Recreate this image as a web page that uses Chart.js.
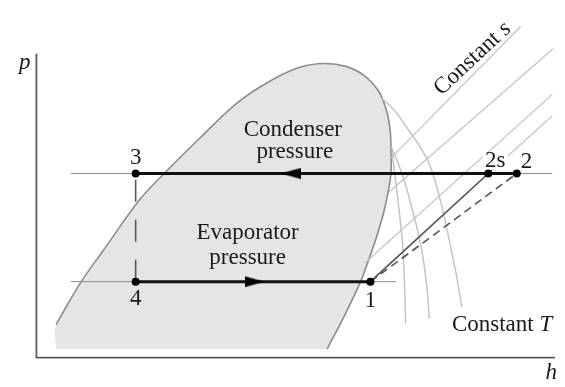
<!DOCTYPE html>
<html>
<head>
<meta charset="utf-8">
<script src="https://cdn.jsdelivr.net/npm/chart.js@4.4.1/dist/chart.umd.min.js"></script>
<style>
html, body { margin: 0; padding: 0; background: #fff; }
#wrap { width: 565px; height: 387px; }
</style>
</head>
<body>
<div id="wrap"><canvas id="myChart" width="565" height="387"></canvas></div>
<script>
// Diagrama p-h (ciclo de refrigeração) - unidades arbitrárias lidas da figura
// h: entalpia, p: pressão

// Curva de saturação (domo), da esquerda para a direita
const domeH = [20, 45, 68, 105, 130, 168, 205, 238, 268, 293, 315, 333, 348, 356, 360, 361, 361, 358, 353, 345, 337, 330, 314, 296];
const domeP = [34, 77, 110, 162, 189, 227, 262, 284, 298, 302, 299, 290, 274, 255, 234, 212, 190, 170, 147, 120, 97, 78, 44, 9];

// Linhas de temperatura constante
const tA_H = [352, 366, 378, 390, 400, 411, 421, 428, 433];
const tA_P = [266, 252, 235, 217, 199, 162, 117, 82, 52];
const tB_H = [361, 371, 380, 391, 397, 400];
const tB_P = [217, 192, 162, 117, 77, 40];
const tC_H = [362, 365, 368, 373, 376];
const tC_P = [212, 187, 162, 112, 35];

// Linhas de entropia constante
const s1_H = [360, 493], s1_P = [204, 340];
const s2_H = [359, 526], s2_P = [170, 317];
const s3_H = [334, 525], s3_P = [97, 270];
const s4_H = [340, 460, 525], s4_P = [78, 189, 248];

// Estados do ciclo
const estados = ['1', '2s', '2', '3', '4'];
const estadoH = [340, 460, 489, 101, 101];
const estadoP = [78, 189, 189, 189, 78];

// Isobáricas (condensador e evaporador)
const pCond = 189, pEvap = 78;
const isoCondH = [35, 525];
const isoEvapH = [35, 366];

// Setas (posição do centro)
const setaH = [222, 259];
const setaP = [78, 189];

// Eixos
const eixoH = [0, 0, 528];
const eixoP = [312, 0, 0];

// Textos
const notas = [
  { h: -12, p: 303, parts: [['p', true]] },
  { h: 524, p: -16, parts: [['h', true]] },
  { h: 101, p: 205, parts: [['3', false]] },
  { h: 101, p: 60, parts: [['4', false]] },
  { h: 340, p: 58, parts: [['1', false]] },
  { h: 467, p: 202, parts: [['2s', false]], bg: true },
  { h: 499, p: 201, parts: [['2', false]] },
  { h: 261, p: 234, parts: [['Condenser', false]] },
  { h: 263, p: 211, parts: [['pressure', false]] },
  { h: 215, p: 128, parts: [['Evaporator', false]] },
  { h: 215, p: 102, parts: [['pressure', false]] },
  { h: 474, p: 34, parts: [['Constant ', false], ['T', true]] },
  { h: 444, p: 307, parts: [['Constant ', false], ['s', true]], rot: -43 }
];

const pts = (hs, ps) => hs.map((h, i) => ({ x: h, y: ps[i] }));

const cinzaClaro = '#c4c4c4';
const cinzaEscuro = '#555';

function linha(data, cor, largura, extra) {
  return Object.assign({
    data: data, showLine: true, pointRadius: 0, borderColor: cor,
    borderWidth: largura, fill: false, tension: 0
  }, extra || {});
}

function makeArrow() {
  const c = document.createElement('canvas');
  c.width = 20; c.height = 12;
  const g = c.getContext('2d');
  g.fillStyle = '#000';
  g.beginPath();
  g.moveTo(0, 0.5); g.lineTo(20, 6); g.lineTo(0, 11.5);
  g.closePath(); g.fill();
  return c;
}
const seta = makeArrow();

const FONTE = 23;
const textos = {
  id: 'textos',
  afterDatasetsDraw(chart) {
    const ctx = chart.ctx, sx = chart.scales.x, sy = chart.scales.y;
    notas.forEach(n => {
      ctx.save();
      ctx.translate(sx.getPixelForValue(n.h), sy.getPixelForValue(n.p));
      if (n.rot) ctx.rotate(n.rot * Math.PI / 180);
      let total = 0;
      const partes = n.parts.map(([t, it]) => {
        const f = (it ? 'italic ' : '') + FONTE + 'px "Liberation Serif", "DejaVu Serif", serif';
        ctx.font = f;
        const w = ctx.measureText(t).width;
        total += w;
        return { t, f, w };
      });
      if (n.bg) {
        ctx.fillStyle = '#fff';
        ctx.fillRect(-total / 2 - 2, -8, total + 4, 16);
      }
      ctx.fillStyle = '#1a1a1a';
      ctx.textBaseline = 'middle';
      ctx.textAlign = 'left';
      let cx = -total / 2;
      partes.forEach(pt => {
        ctx.font = pt.f;
        ctx.fillText(pt.t, cx, 0);
        cx += pt.w;
      });
      ctx.restore();
    });
  }
};

const domo = pts(domeH, domeP);

const datasets = [
  // pontos dos estados
  { data: pts(estadoH, estadoP), showLine: false, pointRadius: 4, pointBackgroundColor: '#000', pointBorderWidth: 0, order: 0 },
  // setas
  { data: pts(setaH, setaP), showLine: false, pointStyle: seta, pointRotation: [0, 180], order: 1 },
  // processos
  linha([{ x: estadoH[2], y: pCond }, { x: estadoH[3], y: pCond }], '#111', 3, { order: 2 }),
  linha([{ x: estadoH[4], y: pEvap }, { x: estadoH[0], y: pEvap }], '#111', 3, { order: 2 }),
  linha([{ x: estadoH[0], y: estadoP[0] }, { x: estadoH[1], y: estadoP[1] }], cinzaEscuro, 1.6, { order: 3 }),
  linha([{ x: estadoH[0], y: estadoP[0] }, { x: estadoH[2], y: estadoP[2] }], cinzaEscuro, 1.6, { order: 3, borderDash: [8, 5] }),
  linha([{ x: estadoH[4], y: estadoP[4] }, { x: estadoH[3], y: estadoP[3] }], cinzaEscuro, 1.6, { order: 3, borderDash: [22, 18] }),
  // isobáricas finas
  linha(pts(isoCondH, [pCond, pCond]), '#8a8a8a', 1, { order: 4 }),
  linha(pts(isoEvapH, [pEvap, pEvap]), '#8a8a8a', 1, { order: 4 }),
  // entropia constante
  linha(pts(s1_H, s1_P), cinzaClaro, 1.3, { order: 5 }),
  linha(pts(s2_H, s2_P), cinzaClaro, 1.3, { order: 5 }),
  linha(pts(s3_H, s3_P), cinzaClaro, 1.3, { order: 5 }),
  linha(pts(s4_H, s4_P), cinzaClaro, 1.3, { order: 5 }),
  // temperatura constante
  linha(pts(tA_H, tA_P), cinzaClaro, 1.5, { order: 5, tension: 0.4 }),
  linha(pts(tB_H, tB_P), cinzaClaro, 1.5, { order: 5, tension: 0.4 }),
  linha(pts(tC_H, tC_P), cinzaClaro, 1.5, { order: 5, tension: 0.4 }),
  // eixos
  linha(pts(eixoH, eixoP), '#5a5a5a', 1.8, { order: 5 }),
  // contorno do domo
  linha(domo, '#8c8c8c', 1.6, { order: 6, tension: 0.35 }),
  // preenchimento do domo
  linha([{ x: domeH[0], y: domeP[domeP.length - 1] }].concat(domo), 'rgba(0,0,0,0)', 0,
        { order: 7, tension: 0.35, fill: 'shape', backgroundColor: '#e5e5e5' })
];

document.addEventListener('DOMContentLoaded', function () {
  const ctx = document.getElementById('myChart').getContext('2d');
  new Chart(ctx, {
    type: 'scatter',
    data: { datasets: datasets },
    options: {
      responsive: false,
      animation: false,
      layout: { padding: 0 },
      plugins: { legend: { display: false }, tooltip: { enabled: false } },
      scales: {
        x: { type: 'linear', min: -32, max: 533, display: false },
        y: { type: 'linear', min: -25, max: 362, display: false }
      },
      clip: false
    },
    plugins: [textos]
  });
});
</script>
</body>
</html>
